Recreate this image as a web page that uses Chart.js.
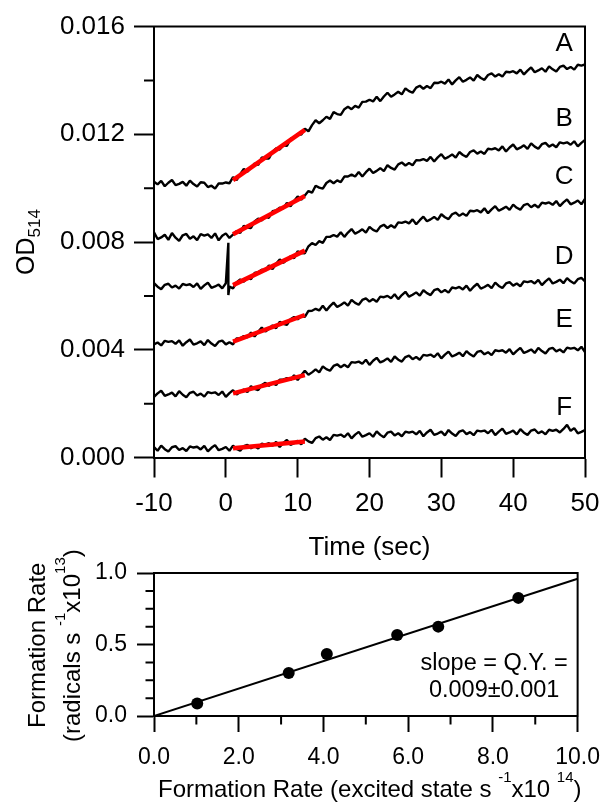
<!DOCTYPE html>
<html><head><meta charset="utf-8">
<script src="https://cdn.jsdelivr.net/npm/chart.js@4.4.1/dist/chart.umd.min.js"></script>
<style>
html,body{margin:0;padding:0;background:#fff;}
body{width:612px;height:802px;position:relative;overflow:hidden;}
canvas{position:absolute;left:0;}
#top{top:0;}
#bot{top:545px;}
</style></head><body>
<canvas id="top" width="612" height="580"></canvas>
<canvas id="bot" width="612" height="257"></canvas>
<script>
// ---------- DATA (top panel: OD514 traces, values in milli-OD, sampled every 0.5 s from -10 s) ----------
const timeStart = -10, timeStep = 0.5;
const traceNames = ['A', 'B', 'C', 'D', 'E', 'F'];
const traceA = [
 10.24,10.14,10.27,10.07,10.20,10.30,10.11,10.16,10.23,10.09,
 10.28,10.15,10.06,10.22,10.20,10.04,10.09,9.98,10.17,10.17,
 10.21,10.18,10.41,10.30,10.52,10.71,10.61,10.75,10.91,10.86,
 11.14,11.10,11.10,11.35,11.48,11.43,11.59,11.57,11.83,11.88,
 12.00,11.99,12.21,12.11,12.34,12.52,12.41,12.52,12.65,12.57,
 12.82,12.75,12.72,12.93,13.02,12.93,13.05,12.99,13.20,13.21,
 13.28,13.22,13.39,13.23,13.40,13.54,13.39,13.48,13.58,13.48,
 13.70,13.60,13.54,13.73,13.80,13.69,13.79,13.71,13.91,13.90,
 13.95,13.88,14.03,13.85,14.00,14.12,13.95,14.02,14.11,13.99,
 14.20,14.09,14.02,14.20,14.26,14.14,14.23,14.14,14.32,14.30,
 14.34,14.26,14.40,14.22,14.36,14.48,14.30,14.37,14.45,14.32,
 14.52,14.41,14.33,14.50,14.55,14.42,14.50,14.40,14.58,14.55,
 14.59];
const traceB = [
 8.36,8.11,8.17,8.27,8.08,8.33,8.16,8.04,8.25,8.30,
 8.12,8.21,8.07,8.29,8.24,8.28,8.15,8.32,8.06,8.23,
 8.32,8.15,8.27,8.41,8.34,8.60,8.54,8.52,8.76,8.87,
 8.80,8.94,8.90,9.14,9.17,9.27,9.25,9.45,9.32,9.52,
 9.69,9.57,9.73,9.89,9.83,10.09,10.02,9.98,10.19,10.28,
 10.18,10.29,10.22,10.43,10.43,10.50,10.43,10.60,10.43,10.59,
 10.72,10.56,10.64,10.74,10.63,10.85,10.75,10.69,10.88,10.95,
 10.84,10.93,10.85,11.04,11.03,11.08,11.01,11.16,10.99,11.14,
 11.26,11.09,11.16,11.25,11.13,11.34,11.23,11.16,11.34,11.40,
 11.28,11.36,11.27,11.46,11.44,11.48,11.40,11.55,11.36,11.51,
 11.62,11.44,11.50,11.59,11.46,11.66,11.54,11.46,11.63,11.68,
 11.54,11.62,11.52,11.70,11.66,11.70,11.61,11.74,11.55,11.68,
 11.79];
const traceC = [
 6.47,6.34,6.25,6.41,6.45,6.31,6.38,6.27,6.44,6.40,
 6.43,6.33,6.46,6.26,6.39,6.49,6.30,6.35,6.42,6.28,
 6.47,6.34,6.28,6.50,6.61,6.53,6.67,6.62,6.85,6.88,
 6.97,6.94,7.13,6.99,7.19,7.35,7.23,7.34,7.47,7.40,
 7.65,7.59,7.58,7.84,7.96,7.89,8.03,7.97,8.19,8.19,
 8.26,8.20,8.36,8.19,8.35,8.48,8.31,8.38,8.47,8.35,
 8.56,8.45,8.39,8.57,8.64,8.52,8.62,8.53,8.73,8.71,
 8.76,8.69,8.84,8.66,8.81,8.94,8.77,8.84,8.93,8.82,
 9.03,8.92,8.85,9.03,9.09,8.97,9.06,8.97,9.16,9.14,
 9.18,9.10,9.25,9.07,9.21,9.33,9.16,9.23,9.31,9.19,
 9.39,9.27,9.20,9.37,9.42,9.29,9.38,9.28,9.46,9.43,
 9.47,9.38,9.52,9.33,9.47,9.58,9.40,9.46,9.54,9.40,
 9.60];
// flash artefact on trace C (one vertical spike)
const spikeTimeC = 0.35;
const spikeODC = [7.97, 6.03];
const traceD = [
 4.20,4.27,4.16,4.33,4.29,4.32,4.22,4.35,4.15,4.28,
 4.38,4.19,4.24,4.31,4.17,4.36,4.23,4.14,4.30,4.34,
 4.20,4.28,4.20,4.42,4.43,4.51,4.46,4.64,4.49,4.67,
 4.82,4.68,4.78,4.90,4.80,5.04,4.96,4.92,5.13,5.22,
 5.13,5.25,5.22,5.44,5.45,5.52,5.46,5.63,5.46,5.62,
 5.75,5.59,5.66,5.76,5.64,5.85,5.74,5.67,5.85,5.91,
 5.79,5.88,5.78,5.97,5.95,6.00,5.91,6.06,5.88,6.03,
 6.15,5.97,6.04,6.13,6.01,6.21,6.10,6.03,6.21,6.26,
 6.13,6.22,6.12,6.31,6.28,6.33,6.24,6.38,6.19,6.34,
 6.45,6.27,6.33,6.41,6.29,6.49,6.37,6.29,6.46,6.51,
 6.38,6.46,6.36,6.54,6.51,6.55,6.46,6.59,6.40,6.54,
 6.65,6.46,6.52,6.60,6.47,6.66,6.54,6.46,6.62,6.67,
 6.54];
const traceE = [
 2.25,2.38,2.48,2.29,2.34,2.41,2.27,2.46,2.33,2.24,
 2.40,2.44,2.30,2.37,2.26,2.43,2.39,2.42,2.32,2.45,
 2.25,2.39,2.50,2.34,2.43,2.53,2.43,2.65,2.55,2.50,
 2.69,2.77,2.66,2.76,2.69,2.89,2.89,2.95,2.88,3.05,
 2.88,3.05,3.22,3.07,3.16,3.27,3.16,3.38,3.28,3.22,
 3.40,3.46,3.35,3.44,3.35,3.54,3.52,3.56,3.48,3.63,
 3.44,3.59,3.70,3.53,3.59,3.68,3.55,3.75,3.63,3.56,
 3.73,3.78,3.65,3.73,3.63,3.81,3.78,3.82,3.73,3.87,
 3.68,3.82,3.93,3.75,3.81,3.89,3.76,3.95,3.83,3.75,
 3.92,3.96,3.83,3.91,3.80,3.98,3.95,3.98,3.89,4.02,
 3.83,3.96,4.07,3.88,3.94,4.01,3.88,4.07,3.95,3.86,
 4.03,4.07,3.94,4.01,3.90,4.08,4.04,4.07,3.98,4.11,
 3.91];
const traceF = [
 0.39,0.25,0.44,0.31,0.22,0.38,0.42,0.28,0.35,0.24,
 0.41,0.37,0.40,0.30,0.43,0.23,0.36,0.46,0.27,0.32,
 0.39,0.25,0.44,0.32,0.25,0.42,0.47,0.34,0.43,0.33,
 0.51,0.48,0.53,0.44,0.58,0.39,0.54,0.65,0.47,0.53,
 0.62,0.49,0.70,0.60,0.54,0.72,0.78,0.66,0.75,0.65,
 0.84,0.81,0.85,0.76,0.90,0.71,0.85,0.95,0.77,0.83,
 0.90,0.77,0.97,0.84,0.75,0.92,0.96,0.82,0.90,0.79,
 0.96,0.92,0.96,0.86,0.99,0.79,0.93,1.03,0.84,0.89,
 0.96,0.82,1.02,0.89,0.80,0.96,1.01,0.87,0.94,0.83,
 1.00,0.97,1.00,0.90,1.03,0.83,0.96,1.07,0.88,0.93,
 1.00,0.86,1.05,0.92,0.84,1.00,1.04,0.90,0.97,0.86,
 1.03,0.99,1.03,0.93,1.06,1.21,0.99,1.09,0.90,0.95,
 1.02];
const traces = [traceA, traceB, traceC, traceD, traceE, traceF];

// initial-rate fits (red), time window and end values in milli-OD
const fitTimes = [1, 11];
const fitStartOD = [10.30, 8.29, 6.40, 4.30, 2.38, 0.34];
const fitEndOD   = [12.16, 9.71, 7.68, 5.29, 3.06, 0.59];

// trace letter labels
const labelTime = 47.1;
const labelOD = [15.35, 12.56, 10.41, 7.44, 5.10, 1.84];

// axes of top panel
const timeTicks = [-10, 0, 10, 20, 30, 40, 50];
const timeTickLabels = ['-10', '0', '10', '20', '30', '40', '50'];
const odTicks = [0, 0.004, 0.008, 0.012, 0.016];
const odTickLabels = ['0.000', '0.004', '0.008', '0.012', '0.016'];
const odMinorTicks = [0.002, 0.006, 0.010, 0.014];

// ---------- DATA (bottom panel) ----------
const excitedRate = [1.02, 3.18, 4.08, 5.74, 6.71, 8.60];
const radicalRate = [0.088, 0.300, 0.433, 0.566, 0.625, 0.826];
const fitLineX = [0, 10];
const fitLineY = [0, 0.96];
const rateXTicks = [0, 2, 4, 6, 8, 10];
const rateXTickLabels = ['0.0', '2.0', '4.0', '6.0', '8.0', '10.0'];
const rateXMinor = [1, 3, 5, 7, 9];
const rateYTicks = [0, 0.5, 1.0];
const rateYTickLabels = ['0.0', '0.5', '1.0'];
const rateYMinor = [0.125, 0.25, 0.375, 0.625, 0.75, 0.875];
const slopeLines = ['slope = Q.Y. =', '0.009\u00b10.001'];
const slopeTextX = 8.03;
const slopeTextY = [0.322, 0.133];

// ---------- rendering ----------
const FONT = '"Liberation Sans", Arial, Helvetica, sans-serif';
Chart.defaults.font.family = FONT;
Chart.defaults.color = '#000';

function drawRich(ctx, segs, x, y, angle, align) {
  ctx.save();
  ctx.translate(x, y);
  ctx.rotate(angle || 0);
  ctx.fillStyle = '#000';
  ctx.textBaseline = 'alphabetic';
  ctx.textAlign = 'left';
  let total = 0;
  for (const s of segs) { ctx.font = s.size + 'px ' + FONT; total += ctx.measureText(s.t).width; }
  let cx = align === 'center' ? -total / 2 : 0;
  for (const s of segs) {
    ctx.font = s.size + 'px ' + FONT;
    ctx.fillText(s.t, cx, s.dy || 0);
    cx += ctx.measureText(s.t).width;
  }
  ctx.restore();
}

const framePlugin = {
  id: 'frame',
  afterDraw(chart, args, opts) {
    const { ctx, chartArea: a, scales } = chart;
    ctx.save();
    ctx.strokeStyle = '#000';
    ctx.lineWidth = 2;
    ctx.beginPath();
    ctx.moveTo(a.left - 1, a.top);
    ctx.lineTo(a.right, a.top);
    ctx.lineTo(a.right, a.bottom + 1);
    ctx.stroke();
    ctx.beginPath();
    for (const v of opts.yMinor || []) {
      const p = scales.y.getPixelForValue(v);
      ctx.moveTo(a.left - opts.minorLen, p); ctx.lineTo(a.left, p);
    }
    for (const v of opts.xMinor || []) {
      const p = scales.x.getPixelForValue(v);
      ctx.moveTo(p, a.bottom); ctx.lineTo(p, a.bottom + opts.minorLen);
    }
    ctx.stroke();
    ctx.restore();
  }
};

const annotPlugin = {
  id: 'annot',
  afterDraw(chart, args, opts) {
    const { ctx, scales } = chart;
    ctx.save();
    ctx.fillStyle = '#000';
    for (const it of opts.items || []) {
      ctx.font = it.size + 'px ' + FONT;
      ctx.textAlign = it.align || 'center';
      ctx.textBaseline = it.baseline || 'middle';
      ctx.fillText(it.text, scales.x.getPixelForValue(it.x), scales.y.getPixelForValue(it.y));
    }
    ctx.restore();
  }
};

const richPlugin = {
  id: 'rich',
  afterDraw(chart, args, opts) {
    for (const it of opts.items || []) drawRich(chart.ctx, it.segs, it.x, it.y, it.angle, it.align);
  }
};

function axisCommon(tickLen, fontSize, pad) {
  return {
    grid: { drawOnChartArea: false, drawTicks: true, tickLength: tickLen, tickWidth: 2, tickColor: '#000' },
    border: { display: true, color: '#000', width: 2 },
    ticks: { font: { family: FONT, size: fontSize, lineHeight: 1.2 }, color: '#000', padding: pad, maxRotation: 0, autoSkip: false }
  };
}

// top panel
function tracePoints(tr, k) {
  const pts = tr.map((v, i) => ({ x: timeStart + i * timeStep, y: v / 1000 }));
  if (traceNames[k] === 'C') {
    const at = pts.findIndex(p => p.x > spikeTimeC);
    pts.splice(at, 0, ...spikeODC.map(v => ({ x: spikeTimeC, y: v / 1000 })));
  }
  return pts;
}
const topDatasets = [];
traces.forEach((tr, k) => {
  topDatasets.push({
    label: 'fit ' + traceNames[k],
    data: fitTimes.map((t, j) => ({ x: t, y: (j === 0 ? fitStartOD[k] : fitEndOD[k]) / 1000 })),
    showLine: true, borderColor: '#ff0000', borderWidth: 4.5, pointRadius: 0, order: 0
  });
});
traces.forEach((tr, k) => {
  topDatasets.push({
    label: traceNames[k],
    data: tracePoints(tr, k),
    showLine: true, borderColor: '#000', borderWidth: 2.4, pointRadius: 0,
    borderJoinStyle: 'bevel', order: 1
  });
});

const xTop = axisCommon(20, 26, 11);
const yTop = axisCommon(20, 26, 9);
new Chart(document.getElementById('top'), {
  type: 'scatter',
  data: { datasets: topDatasets },
  options: {
    responsive: false, animation: false, devicePixelRatio: 1,
    layout: { autoPadding: false, padding: { left: 0, top: 26.5, right: 27, bottom: 0 } },
    plugins: {
      legend: { display: false }, tooltip: { enabled: false },
      frame: { yMinor: odMinorTicks, xMinor: [], minorLen: 10 },
      annot: { items: traceNames.map((n, k) => ({ text: n, x: labelTime, y: labelOD[k] / 1000, size: 26 })) },
      rich: { items: [
        { segs: [{ t: 'OD', size: 25 }, { t: '514', size: 17, dy: 6.5 }], x: 33.5, y: 275, angle: -Math.PI / 2 }
      ] }
    },
    scales: {
      x: {
        type: 'linear', min: -10, max: 50,
        afterBuildTicks: s => { s.ticks = timeTicks.map(v => ({ value: v })); },
        afterFit: s => { s.height = 122.5; },
        grid: xTop.grid, border: xTop.border,
        ticks: Object.assign({}, xTop.ticks, { callback: v => timeTickLabels[timeTicks.indexOf(v)] }),
        title: { display: true, text: 'Time (sec)', color: '#000', font: { family: FONT, size: 26, lineHeight: 1.2 }, padding: { top: 0, bottom: 17 } }
      },
      y: {
        type: 'linear', min: 0, max: 0.016,
        afterBuildTicks: s => { s.ticks = odTicks.map(v => ({ value: v })); },
        afterFit: s => { s.width = 154; },
        grid: yTop.grid, border: yTop.border,
        ticks: Object.assign({}, yTop.ticks, { callback: v => odTickLabels[odTicks.indexOf(v)] })
      }
    }
  },
  plugins: [framePlugin, annotPlugin, richPlugin]
});

// bottom panel
const xBot = axisCommon(16, 23, 12);
const yBot = axisCommon(17, 23, 10);
new Chart(document.getElementById('bot'), {
  type: 'scatter',
  data: { datasets: [
    { label: 'data', data: excitedRate.map((x, i) => ({ x, y: radicalRate[i] })),
      pointRadius: 6, pointBackgroundColor: '#000', pointBorderWidth: 0, showLine: false, order: 0 },
    { label: 'fit', data: fitLineX.map((x, i) => ({ x, y: fitLineY[i] })),
      showLine: true, borderColor: '#000', borderWidth: 2, pointRadius: 0, order: 1 }
  ] },
  options: {
    responsive: false, animation: false, devicePixelRatio: 1,
    layout: { autoPadding: false, padding: { left: 0, top: 28, right: 27, bottom: 0 } },
    plugins: {
      legend: { display: false }, tooltip: { enabled: false },
      frame: { yMinor: rateYMinor, xMinor: rateXMinor, minorLen: 8.5 },
      annot: { items: slopeLines.map((t, i) => ({ text: t, x: slopeTextX, y: slopeTextY[i], size: 23.5, baseline: 'alphabetic' })) },
      rich: { items: [
        { segs: [{ t: 'Formation Rate', size: 24 }], x: 45, y: 183, angle: -Math.PI / 2 },
        { segs: [{ t: '(radicals s ', size: 24 }, { t: '-1', size: 15, dy: -15 }, { t: 'x10', size: 24 },
                 { t: '13', size: 15, dy: -15 }, { t: ')', size: 24 }], x: 80, y: 197, angle: -Math.PI / 2 },
        { segs: [{ t: 'Formation Rate (excited state s ', size: 24 }, { t: '-1', size: 15, dy: -15 }, { t: 'x10 ', size: 24 },
                 { t: '14', size: 15, dy: -15 }, { t: ')', size: 24 }], x: 158, y: 252, angle: 0 }
      ] }
    },
    scales: {
      x: {
        type: 'linear', min: 0, max: 10,
        afterBuildTicks: s => { s.ticks = rateXTicks.map(v => ({ value: v })); },
        afterFit: s => { s.height = 86; },
        grid: xBot.grid, border: xBot.border,
        ticks: Object.assign({}, xBot.ticks, { callback: v => rateXTickLabels[rateXTicks.indexOf(v)] })
      },
      y: {
        type: 'linear', min: 0, max: 1,
        afterBuildTicks: s => { s.ticks = rateYTicks.map(v => ({ value: v })); },
        afterFit: s => { s.width = 154; },
        grid: yBot.grid, border: yBot.border,
        ticks: Object.assign({}, yBot.ticks, { callback: v => rateYTickLabels[rateYTicks.indexOf(v)] })
      }
    }
  },
  plugins: [framePlugin, annotPlugin, richPlugin]
});
</script>
</body></html>
